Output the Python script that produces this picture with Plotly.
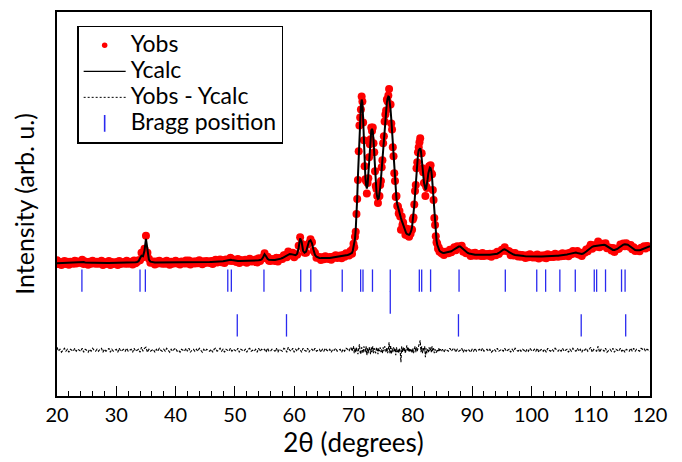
import numpy as np
import plotly.graph_objects as go

# 2-theta sampling: 0.25 deg steps, 0.125 deg across the main peak cluster
two_theta = np.round(np.concatenate([
    np.arange(20.0, 69.4999, 0.25),
    np.arange(69.5, 84.9999, 0.125),
    np.arange(85.0, 120.0001, 0.25),
]), 3)

# Calculated profile
y_calc = [
    # 20 - 69.25 deg (0.25 step)
    375, 376, 377, 377,  378, 378, 378, 379,  379, 379, 380, 380,  380, 381, 382, 384,
    388, 390, 387, 383,  381, 380, 380, 380,  380, 380, 379, 379,  379, 379, 379, 378,
    378, 378, 378, 378,  378, 378, 378, 378,  378, 378, 378, 378,  378, 378, 379, 379,
    379, 380, 380, 381,  382, 384, 387, 395,  425, 450, 445, 500,  620, 500, 410, 390,
    385, 383, 382, 381,  381, 380, 380, 380,  380, 380, 380, 380,  380, 380, 380, 380,
    380, 381, 381, 381,  381, 381, 382, 382,  382, 382, 383, 383,  383, 383, 384, 384,
    384, 385, 385, 385,  386, 386, 387, 387,  388, 388, 389, 390,  391, 392, 393, 395,
    395, 398, 403, 408,  410, 410, 407, 403,  400, 398, 398, 398,  398, 398, 399, 399,
    399, 400, 400, 401,  401, 402, 402, 403,  404, 406, 412, 435,  465, 445, 420, 410,
    407, 406, 406, 407,  409, 412, 416, 421,  427, 435, 445, 455,  463, 468, 466, 460,
    455, 455, 470, 530,  625, 590, 500, 480,  490, 540, 595, 605,  575, 510, 460, 440,
    432, 428, 426, 425,  425, 425, 426, 427,  428, 430, 431, 433,  435, 437, 440, 442,
    445, 448, 451, 454,  458, 462,
    # 69.5 - 84.875 deg (0.125 step)
    467, 472, 480, 500,
    530, 565, 620, 710, 840, 1030, 1250, 1480,
    1700, 1860, 1960, 2020, 1990, 1820, 1570, 1370,
    1240, 1160, 1125, 1160, 1260, 1410, 1560, 1660,
    1710, 1725, 1700, 1610, 1470, 1310, 1180, 1090,
    1040, 1020, 1025, 1060, 1130, 1220, 1330, 1440,
    1550, 1660, 1760, 1850, 1930, 1990, 2030, 2050,
    2045, 2000, 1920, 1820, 1700, 1560, 1420, 1290,
    1180, 1090, 1020, 970, 935, 905, 880, 855,
    830, 805, 780, 755, 730, 710, 690, 678,
    670, 664, 660, 660, 666, 680, 705, 740,
    795, 865, 955, 1060, 1180, 1300, 1400, 1470,
    1510, 1530, 1530, 1500, 1440, 1360, 1270, 1190,
    1140, 1120, 1125, 1160, 1220, 1280, 1320, 1335,
    1330, 1300, 1230, 1120, 990, 860, 750, 665,
    605, 560, 530, 512, 500, 492, 486, 483,
    # 85 - 120 deg (0.25 step)
    480, 478, 480, 483,
    485, 490, 495, 505,  515, 525, 535, 542,  543, 530, 510, 495,  485, 478, 472, 468,
    465, 463, 461, 460,  459, 458, 458, 458,  458, 458, 458, 459,  459, 460, 461, 462,
    465, 470, 478, 490,  500, 510, 515, 510,  498, 485, 475, 467,  462, 458, 455, 452,
    450, 449, 448, 447,  446, 445, 444, 444,  443, 443, 443, 443,  443, 443, 443, 443,
    443, 444, 444, 445,  445, 446, 447, 448,  449, 450, 451, 452,  454, 456, 458, 460,
    463, 466, 470, 474,  478, 482, 482, 478,  472, 468, 468, 472,  480, 492, 505, 520,
    530, 540, 545, 548,  550, 552, 555, 558,  560, 560, 555, 545,  532, 520, 512, 508,
    507, 510, 518, 530,  543, 555, 562, 565,  565, 560, 550, 538,  526, 515, 508, 505,
    503, 505, 510, 517,  525, 532, 538, 543,  545,
]

# Observed minus calculated on the same grid
residual = [
    # 20 - 69.25 deg
    30, -10, 10, -20,  0, 20, -10, 10,  -20, 10, 0, -10,  20, -10, 10, 0,
    -10, 20, -20, 10,  0, -20, 10, -10,  20, 0, -10, 10,  -10, 10, 20, -20,
    10, -10, 0, 20,  -20, 10, -10, 0,  10, -20, 20, -10,  0, 10, -10, 20,
    -10, 0, 10, -20,  20, -10, 0, 10,  -20, 30, -10, 20,  30, -20, 10, -10,
    0, 10, -20, 10,  -10, 20, 0, -10,  10, -10, 20, 0,  -20, 10, -10, 10,
    20, -10, 0, -20,  10, 0, -10, 20,  -10, 20, -20, 0,  10, -10, 10, -10,
    20, 0, -20, 10,  -10, 10, 0, -10,  10, -20, 10, 20,  -10, 0, 20, -10,
    10, -20, 10, 0,  -10, 20, -10, 10,  0, -10, 20, -20,  10, 0, -10, 10,
    -20, 10, 20, -10,  0, -10, 10, -20,  20, -10, 10, 0,  10, -20, 20, -10,
    -10, 10, 0, -10,  20, -20, 10, 0,  -10, 20, 10, -20,  30, 0, -10, 20,
    -20, 10, -10, 20,  10, -20, 20, 0,  -10, 20, -20, 10,  10, -10, 20, -10,
    0, 10, -20, 10,  -10, 20, 0, -10,  10, -20, 10, 0,  20, -10, 0, 10,
    -20, 10, -10, 20,  10, -10,
    # 69.5 - 84.875 deg
    30, 20, -10, 20,
    40, -30, 20, -20, 30, -10, -40, 20,
    60, -20, -40, 30, 10, -30, 40, -20,
    -20, 40, -50, 20, -30, 30, 10, -40,
    30, -20, 40, -30, 20, -10, -30, 30,
    10, -40, 20, -10, 30, -20, 10, -30,
    30, -10, 40, 20, -20, 30, -30, 10,
    80, -30, 50, -40, 20, -20, 30, -10,
    20, -50, 30, -20, 10, -30, 20, -10,
    -120, 40, -20, 30, -10, 20, -30, 10,
    50, -10, 30, -20, 20, -10, 10, -30,
    20, -30, 10, 40, -20, 30, -10, 20,
    30, 60, 100, -20, 40, -30, 20, -10,
    40, -70, 20, -30, 10, -20, 30, -10,
    30, -20, 40, -10, 20, -30, 10, -20,
    -20, 10, -10, 20, -10, 10, 0, -10,
    # 85 - 120 deg
    10, -20, 10, 0,
    -10, 20, -10, 10,  20, -20, 10, -10,  0, 20, -20, 10,  -10, 10, 0, -20,
    10, -10, 20, -10,  0, 10, -10, 20,  -10, 0, 10, -10,  10, -20, 0, 10,
    -10, 20, -10, 0,  10, -10, 20, -10,  0, 10, -20, 10,  -10, 20, 0, -10,
    10, -10, 10, 0,  -20, 10, -10, 20,  0, -10, 10, -10,  20, -20, 0, 10,
    -10, 10, -20, 20,  0, -10, 10, -10,  20, 0, -10, 10,  -10, 20, -10, 0,
    10, -20, 10, -10,  20, 0, -10, 20,  -10, 10, -20, 10,  0, 20, -10, 10,
    30, -20, 10, 0,  -10, 40, -20, 10,  10, -10, 20, -20,  0, 10, -10, 20,
    -20, 10, 0, -10,  20, -10, 10, -20,  10, 0, -10, 20,  -10, 20, -10, 10,
    0, -10, 20, 10,  20, -10, 10, 0,  -10,
]

# Bragg reflection positions (degrees 2-theta) for the three phases
bragg_phase1 = [24.2, 34.0, 34.9, 48.8, 49.4, 54.9, 61.1, 62.8, 68.1, 71.2, 71.6,
                73.2, 76.2, 81.1, 81.5, 83.0, 87.8, 95.6, 100.9, 102.4, 104.8,
                107.4, 110.6, 111.0, 112.5, 115.2, 115.8]
bragg_phase2 = [76.2]
bragg_phase3 = [50.4, 58.7, 87.7, 108.4, 115.9]

# vertical placement of the tick rows and of the difference curve
bragg_levels = [200, -20, -250]
diff_offset = -500

legend_names = ["Yobs", "Ycalc", "Yobs - Ycalc", "Bragg position"]

y_calc = np.array(y_calc, dtype=float)
residual = np.array(residual, dtype=float)
y_obs = y_calc + residual

FONT = "Lato, 'Open Sans', sans-serif"
BLUE = "#2a2af0"
DIFF_DASH = "3px,1.5px"


def legend_label(text):
    return f"<span style='font-size:23px'>{text}</span>"


fig = go.Figure()

fig.add_trace(go.Scatter(
    x=two_theta, y=y_obs, mode="markers", name=legend_names[0], showlegend=False,
    marker=dict(color="#ff0000", size=8, line=dict(width=0)),
))
fig.add_trace(go.Scatter(
    x=two_theta, y=y_calc, mode="lines", name=legend_names[1], showlegend=False,
    line=dict(color="black", width=2),
))
fig.add_trace(go.Scatter(
    x=two_theta, y=residual + diff_offset, mode="lines", name=legend_names[2],
    showlegend=False,
    line=dict(color="black", width=1.1, dash=DIFF_DASH),
))
for pos, lev in zip([bragg_phase1, bragg_phase2, bragg_phase3], bragg_levels):
    fig.add_trace(go.Scatter(
        x=pos, y=[lev] * len(pos), mode="markers",
        name=legend_names[3], showlegend=False,
        marker=dict(symbol="line-ns", size=16, color=BLUE,
                    line=dict(color=BLUE, width=1.3)),
    ))

# legend entries (key glyphs drawn a little smaller than the plotted marks)
legend_styles = [
    dict(mode="markers", marker=dict(color="#ff0000", size=5.5)),
    dict(mode="lines", line=dict(color="black", width=1.4)),
    dict(mode="lines", line=dict(color="black", width=1, dash="2px,2px")),
    dict(mode="markers", marker=dict(symbol="line-ns", size=12, color=BLUE,
                                     line=dict(color=BLUE, width=1.6))),
]
for name, style in zip(legend_names, legend_styles):
    fig.add_trace(go.Scatter(x=[None], y=[None], name=legend_label(name),
                             showlegend=True, **style))

fig.update_layout(
    width=682, height=462,
    margin=dict(l=57, r=32, t=10, b=66),
    paper_bgcolor="white", plot_bgcolor="white",
    font=dict(family=FONT, size=20, color="black"),
    showlegend=True,
    legend=dict(
        x=0.034, y=0.964, xanchor="left", yanchor="top",
        bgcolor="white", bordercolor="black", borderwidth=1.5,
        font=dict(family=FONT, size=17.7, color="black"),
        itemsizing="trace", itemwidth=42, tracegroupgap=0,
    ),
    xaxis=dict(
        range=[20, 120], tickmode="linear", tick0=20, dtick=10,
        ticks="inside", ticklen=10, tickwidth=1, tickcolor="black",
        minor=dict(ticks="inside", ticklen=5, dtick=2, tickcolor="black", tickwidth=1),
        showline=True, linecolor="black", linewidth=1.5, mirror=True,
        showgrid=False, zeroline=False,
        tickfont=dict(family=FONT, size=20),
        title=dict(text="2θ (degrees)", font=dict(family=FONT, size=26), standoff=3),
    ),
    yaxis=dict(
        range=[-960, 2900], showticklabels=False, ticks="",
        showline=True, linecolor="black", linewidth=1.5, mirror=True,
        showgrid=False, zeroline=False,
        title=dict(text="Intensity (arb. u.)", font=dict(family=FONT, size=25), standoff=14),
    ),
)

fig.write_html("out.html")
